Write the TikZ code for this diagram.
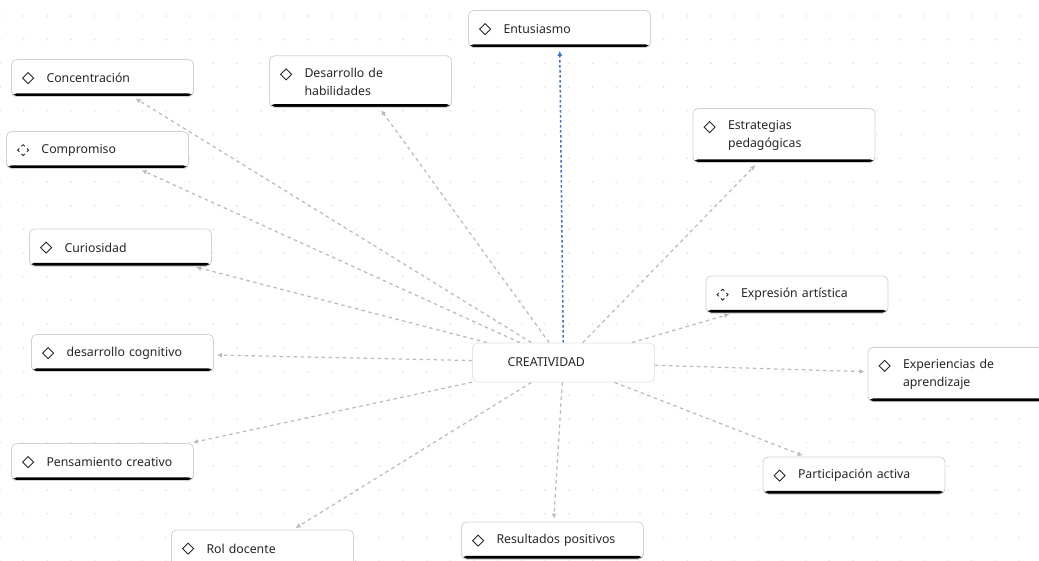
\documentclass[tikz,border=0pt]{standalone}
\usepackage{fontspec}
\setmainfont{Noto Sans}
\usepackage{xcolor}
\usetikzlibrary{arrows.meta}

\definecolor{inkgray}{HTML}{262626}
\definecolor{dotgray}{HTML}{E0E0E0}
\definecolor{linkgray}{HTML}{B8B8C6}
\definecolor{linkblue}{HTML}{3A6FE2}

\begin{document}
\begin{tikzpicture}[x=1pt,y=-1pt,
  tag/.style={draw=gray!35, line width=0.8pt, fill=white, rounded corners=5pt,
    minimum width=182pt, minimum height=37pt, text width=112pt,
    inner xsep=35pt, inner ysep=12pt, align=left, text=inkgray,
    font=\fontsize{12.3}{18}\selectfont,
    path picture={\fill[black] ([yshift=3.2pt]path picture bounding box.south west) rectangle (path picture bounding box.south east);}},
  hub/.style={tag, draw=gray!20, minimum height=39pt, path picture={}},
  link/.style={draw=linkgray, line width=1.2pt, dash pattern=on 3.5pt off 3.5pt,
    -{Latex[length=5pt,width=5pt]}, shorten >=3pt},
  blink/.style={link, draw=linkblue, line width=1.5pt, dash pattern=on 2.5pt off 2.5pt},
  icon/.style={draw=inkgray, line width=0.9pt},
  dicon/.style={icon, dash pattern=on 4.8pt off 2.98pt, dash phase=2.4pt}]
  \def\h{5.5pt};
  \clip (0,0) rectangle (1039,560);
  \fill[white] (0,0) rectangle (1039,560);
  % dotted background
  \foreach \i in {0,...,44}
    \foreach \j in {0,...,23}
      \fill[dotgray] (\i*23.7,16+\j*23.7) circle (0.9pt);

  \node[hub] (crea) at (563.5,362.5) {CREATIVIDAD};

  \node[tag] (entu) at (559.5,29) {Entusiasmo};
  \node[tag] (conc) at (102.5,78) {Concentración};
  \node[tag] (habi) at (360.5,81.5) {Desarrollo de\\habilidades};
  \node[tag] (comp) at (97.5,150) {Compromiso};
  \node[tag] (estr) at (784,135.5) {Estrategias\\pedagógicas};
  \node[tag] (curi) at (120.5,247.5) {Curiosidad};
  \node[tag] (expr) at (797,294.5) {\mbox{Expresión artística}};
  \node[tag] (cogn) at (122.5,353) {\mbox{desarrollo cognitivo}};
  \node[tag] (expe) at (959,374.5) {Experiencias de\\aprendizaje};
  \node[tag] (pens) at (102.5,462) {\mbox{Pensamiento creativo}};
  \node[tag] (part) at (854,475.5) {\mbox{Participación activa}};
  \node[tag] (rold) at (262.5,548.5) {Rol docente};
  \node[tag] (resu) at (552.5,540.5) {\mbox{Resultados positivos}};

  % icons
  \foreach \t in {entu,conc,habi,estr,curi,cogn,expe,pens,part,rold,resu}
    \draw[icon] ([shift={(17pt,-19pt)}]\t.north west) +(0pt,\h) -- +(\h,0pt) -- +(0pt,-\h) -- +(-\h,0pt) -- cycle;
  \foreach \t in {comp,expr}
    \draw[dicon] ([shift={(17pt,-19pt)}]\t.north west) +(0pt,\h) -- +(\h,0pt) -- +(0pt,-\h) -- +(-\h,0pt) -- cycle;

  % links
  \foreach \t in {conc,habi,comp,estr,curi,expr,cogn,expe,pens,part,rold,resu}
    \draw[link] (crea) -- (\t);
  \draw[blink] (crea) -- (entu);
\end{tikzpicture}
\end{document}
